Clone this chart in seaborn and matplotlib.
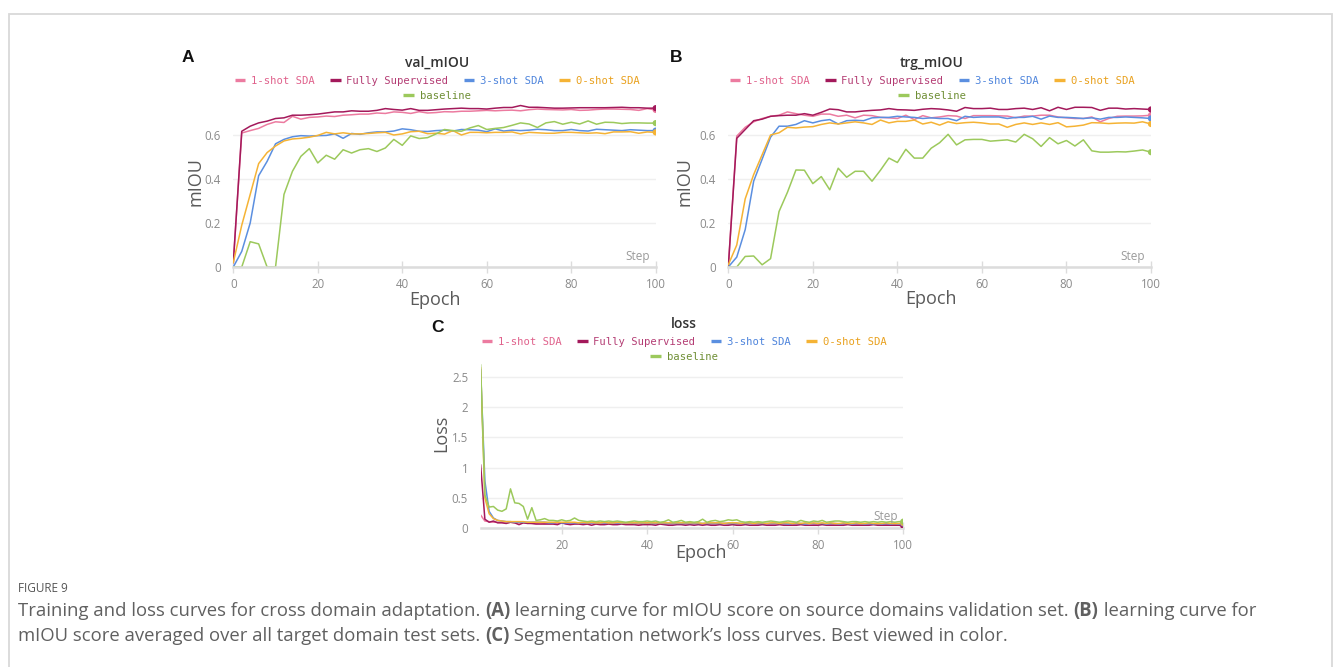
import numpy as np
import pandas as pd
import matplotlib
matplotlib.use("Agg")
import matplotlib.pyplot as plt
import seaborn as sns
from matplotlib.lines import Line2D
from matplotlib.patches import Rectangle
from matplotlib import font_manager

# ---------------- data ----------------
runs = ["1-shot SDA", "Fully Supervised", "3-shot SDA", "0-shot SDA", "baseline"]
line_colors = ["#ec7ba0", "#a3195b", "#5b8fe0", "#f5b335", "#9cc95c"]
text_colors = ["#e0628c", "#b43d74", "#4f85dc", "#e9a11e", "#6f8f35"]

epochs_miou = list(range(0, 101, 2))
epochs_loss = list(range(1, 101))

val_one = [0.02, 0.609, 0.620, 0.630, 0.648, 0.660, 0.657, 0.685, 0.672, 0.680,
           0.682, 0.686, 0.684, 0.690, 0.692, 0.695, 0.695, 0.700, 0.698, 0.705,
           0.703, 0.698, 0.706, 0.700, 0.702, 0.706, 0.705, 0.708, 0.708, 0.710,
           0.712, 0.710, 0.712, 0.713, 0.710, 0.715, 0.718, 0.716, 0.715, 0.714,
           0.716, 0.712, 0.713, 0.716, 0.718, 0.718, 0.717, 0.716, 0.712, 0.720, 0.714]
val_full = [0.02, 0.617, 0.640, 0.655, 0.663, 0.675, 0.678, 0.690, 0.690, 0.692,
            0.695, 0.700, 0.705, 0.705, 0.710, 0.708, 0.708, 0.712, 0.720, 0.716,
            0.713, 0.720, 0.712, 0.712, 0.715, 0.718, 0.720, 0.722, 0.720, 0.720,
            0.718, 0.722, 0.725, 0.725, 0.734, 0.726, 0.726, 0.724, 0.722, 0.722,
            0.723, 0.724, 0.724, 0.724, 0.724, 0.725, 0.726, 0.724, 0.724, 0.722, 0.722]
val_three = [0.0, 0.071, 0.200, 0.415, 0.480, 0.560, 0.580, 0.592, 0.597, 0.595,
             0.597, 0.598, 0.605, 0.585, 0.607, 0.603, 0.610, 0.614, 0.614, 0.618,
             0.628, 0.624, 0.617, 0.616, 0.620, 0.622, 0.618, 0.625, 0.624, 0.622,
             0.615, 0.628, 0.618, 0.622, 0.620, 0.622, 0.626, 0.624, 0.620, 0.620,
             0.625, 0.620, 0.618, 0.626, 0.624, 0.622, 0.620, 0.624, 0.622, 0.620, 0.620]
val_zero = [0.02, 0.190, 0.330, 0.470, 0.520, 0.550, 0.573, 0.582, 0.585, 0.590,
            0.598, 0.612, 0.605, 0.610, 0.605, 0.605, 0.607, 0.610, 0.612, 0.600,
            0.605, 0.615, 0.617, 0.606, 0.608, 0.604, 0.620, 0.600, 0.612, 0.612,
            0.610, 0.612, 0.612, 0.614, 0.605, 0.612, 0.610, 0.608, 0.608, 0.612,
            0.612, 0.610, 0.608, 0.610, 0.606, 0.614, 0.614, 0.615, 0.608, 0.614, 0.612]
val_base = [0.0, 0.0, 0.115, 0.105, 0.0, 0.0, 0.330, 0.435, 0.503, 0.538,
            0.473, 0.508, 0.490, 0.533, 0.518, 0.533, 0.538, 0.525, 0.541, 0.580,
            0.553, 0.596, 0.584, 0.588, 0.605, 0.625, 0.620, 0.617, 0.632, 0.643,
            0.625, 0.630, 0.634, 0.644, 0.655, 0.650, 0.634, 0.655, 0.661, 0.649,
            0.658, 0.650, 0.664, 0.649, 0.658, 0.657, 0.652, 0.655, 0.655, 0.654, 0.654]

trg_one = [0.0, 0.595, 0.635, 0.660, 0.675, 0.685, 0.690, 0.705, 0.697, 0.690,
           0.685, 0.695, 0.695, 0.685, 0.690, 0.678, 0.690, 0.688, 0.680, 0.678,
           0.675, 0.690, 0.670, 0.688, 0.678, 0.682, 0.688, 0.686, 0.675, 0.688,
           0.688, 0.688, 0.687, 0.686, 0.678, 0.686, 0.686, 0.690, 0.690, 0.682,
           0.678, 0.675, 0.675, 0.682, 0.660, 0.675, 0.685, 0.686, 0.686, 0.687, 0.690]
trg_full = [0.0, 0.585, 0.625, 0.665, 0.672, 0.685, 0.688, 0.690, 0.690, 0.697,
            0.690, 0.703, 0.718, 0.715, 0.705, 0.705, 0.709, 0.712, 0.714, 0.720,
            0.715, 0.714, 0.712, 0.717, 0.720, 0.718, 0.714, 0.708, 0.725, 0.720,
            0.720, 0.722, 0.716, 0.716, 0.720, 0.722, 0.716, 0.724, 0.710, 0.726,
            0.716, 0.726, 0.726, 0.725, 0.712, 0.722, 0.722, 0.718, 0.720, 0.718, 0.716]
trg_three = [0.0, 0.045, 0.170, 0.390, 0.490, 0.590, 0.640, 0.640, 0.648, 0.665,
             0.655, 0.665, 0.670, 0.650, 0.665, 0.667, 0.665, 0.678, 0.680, 0.680,
             0.685, 0.682, 0.680, 0.675, 0.678, 0.675, 0.675, 0.665, 0.685, 0.680,
             0.682, 0.682, 0.682, 0.675, 0.680, 0.680, 0.685, 0.672, 0.686, 0.680,
             0.680, 0.678, 0.675, 0.678, 0.672, 0.680, 0.680, 0.682, 0.680, 0.678, 0.675]
trg_zero = [0.01, 0.100, 0.310, 0.420, 0.510, 0.600, 0.610, 0.635, 0.632, 0.636,
            0.638, 0.648, 0.655, 0.650, 0.655, 0.660, 0.655, 0.648, 0.668, 0.655,
            0.662, 0.662, 0.668, 0.650, 0.658, 0.645, 0.660, 0.652, 0.656, 0.658,
            0.655, 0.650, 0.650, 0.635, 0.648, 0.655, 0.648, 0.655, 0.648, 0.656,
            0.637, 0.640, 0.645, 0.656, 0.655, 0.652, 0.654, 0.655, 0.654, 0.660, 0.650]
trg_base = [0.0, 0.0, 0.048, 0.050, 0.010, 0.038, 0.252, 0.340, 0.441, 0.440,
            0.379, 0.411, 0.351, 0.449, 0.408, 0.435, 0.435, 0.390, 0.440, 0.495,
            0.475, 0.535, 0.495, 0.495, 0.540, 0.565, 0.603, 0.555, 0.578, 0.580,
            0.580, 0.572, 0.575, 0.578, 0.568, 0.603, 0.583, 0.548, 0.588, 0.560,
            0.575, 0.550, 0.578, 0.528, 0.522, 0.522, 0.524, 0.523, 0.527, 0.532, 0.522]

loss_one = [0.22, 0.12, 0.11, 0.10, 0.10, 0.10, 0.09, 0.10, 0.09, 0.09,
            0.09, 0.09, 0.08, 0.08, 0.09, 0.08, 0.08, 0.08, 0.08, 0.09,
            0.08, 0.08, 0.08, 0.08, 0.08, 0.07, 0.08, 0.08, 0.07, 0.08,
            0.08, 0.07, 0.08, 0.08, 0.07, 0.07, 0.08, 0.07, 0.07, 0.08,
            0.07, 0.07, 0.08, 0.07, 0.07, 0.07, 0.08, 0.07, 0.07, 0.07,
            0.07, 0.08, 0.07, 0.07, 0.07, 0.07, 0.07, 0.08, 0.07, 0.07,
            0.07, 0.07, 0.07, 0.08, 0.07, 0.07, 0.07, 0.07, 0.07, 0.07,
            0.08, 0.07, 0.07, 0.07, 0.07, 0.07, 0.07, 0.08, 0.07, 0.07,
            0.07, 0.07, 0.07, 0.07, 0.07, 0.07, 0.07, 0.07, 0.07, 0.07,
            0.07, 0.07, 0.07, 0.07, 0.07, 0.06, 0.07, 0.07, 0.07, 0.06]
loss_full = [1.05, 0.15, 0.10, 0.12, 0.09, 0.09, 0.08, 0.10, 0.09, 0.06,
             0.09, 0.08, 0.08, 0.07, 0.07, 0.07, 0.07, 0.07, 0.06, 0.09,
             0.07, 0.06, 0.07, 0.07, 0.06, 0.07, 0.05, 0.07, 0.06, 0.06,
             0.07, 0.06, 0.06, 0.07, 0.06, 0.06, 0.06, 0.05, 0.06, 0.06,
             0.06, 0.05, 0.07, 0.06, 0.05, 0.05, 0.06, 0.06, 0.05, 0.06,
             0.05, 0.06, 0.05, 0.06, 0.05, 0.05, 0.06, 0.05, 0.05, 0.06,
             0.05, 0.05, 0.06, 0.05, 0.05, 0.05, 0.06, 0.05, 0.05, 0.05,
             0.06, 0.05, 0.05, 0.05, 0.05, 0.06, 0.05, 0.05, 0.05, 0.05,
             0.06, 0.05, 0.05, 0.05, 0.05, 0.05, 0.06, 0.05, 0.05, 0.05,
             0.05, 0.05, 0.06, 0.05, 0.05, 0.05, 0.05, 0.05, 0.05, 0.04]
loss_three = [2.62, 0.78, 0.28, 0.17, 0.13, 0.12, 0.11, 0.11, 0.10, 0.10,
              0.10, 0.10, 0.10, 0.10, 0.10, 0.10, 0.09, 0.09, 0.10, 0.09,
              0.09, 0.09, 0.09, 0.09, 0.09, 0.09, 0.09, 0.09, 0.09, 0.09,
              0.09, 0.09, 0.09, 0.08, 0.09, 0.09, 0.08, 0.09, 0.08, 0.09,
              0.08, 0.08, 0.09, 0.08, 0.08, 0.08, 0.08, 0.08, 0.08, 0.08,
              0.08, 0.08, 0.08, 0.08, 0.08, 0.08, 0.08, 0.08, 0.08, 0.08,
              0.08, 0.08, 0.08, 0.08, 0.08, 0.08, 0.08, 0.08, 0.08, 0.08,
              0.08, 0.08, 0.07, 0.08, 0.08, 0.08, 0.07, 0.08, 0.08, 0.08,
              0.08, 0.07, 0.08, 0.08, 0.07, 0.08, 0.08, 0.07, 0.08, 0.08,
              0.07, 0.08, 0.07, 0.08, 0.07, 0.08, 0.07, 0.08, 0.07, 0.08]
loss_zero = [2.65, 0.50, 0.24, 0.16, 0.13, 0.12, 0.11, 0.11, 0.11, 0.11,
             0.11, 0.10, 0.10, 0.10, 0.10, 0.10, 0.10, 0.10, 0.10, 0.10,
             0.10, 0.10, 0.10, 0.09, 0.10, 0.09, 0.10, 0.09, 0.09, 0.10,
             0.09, 0.09, 0.10, 0.09, 0.09, 0.09, 0.09, 0.09, 0.09, 0.09,
             0.09, 0.09, 0.09, 0.09, 0.09, 0.09, 0.09, 0.09, 0.09, 0.09,
             0.09, 0.09, 0.08, 0.09, 0.09, 0.09, 0.09, 0.08, 0.09, 0.09,
             0.09, 0.08, 0.09, 0.09, 0.08, 0.09, 0.09, 0.08, 0.09, 0.09,
             0.08, 0.09, 0.09, 0.08, 0.09, 0.08, 0.09, 0.08, 0.09, 0.08,
             0.09, 0.08, 0.09, 0.08, 0.08, 0.09, 0.08, 0.08, 0.09, 0.08,
             0.08, 0.09, 0.08, 0.08, 0.08, 0.09, 0.08, 0.08, 0.08, 0.09]
loss_base = [2.70, 0.55, 0.35, 0.36, 0.30, 0.28, 0.32, 0.65, 0.42, 0.41,
             0.36, 0.15, 0.34, 0.13, 0.14, 0.16, 0.13, 0.13, 0.12, 0.14,
             0.12, 0.13, 0.17, 0.13, 0.12, 0.11, 0.12, 0.11, 0.12, 0.11,
             0.12, 0.11, 0.12, 0.11, 0.10, 0.11, 0.12, 0.11, 0.11, 0.12,
             0.11, 0.12, 0.10, 0.11, 0.14, 0.10, 0.11, 0.13, 0.10, 0.11,
             0.10, 0.11, 0.15, 0.10, 0.12, 0.13, 0.11, 0.12, 0.14, 0.13,
             0.14, 0.11, 0.10, 0.11, 0.10, 0.11, 0.10, 0.11, 0.12, 0.11,
             0.10, 0.11, 0.12, 0.11, 0.10, 0.13, 0.11, 0.10, 0.12, 0.11,
             0.13, 0.10, 0.11, 0.12, 0.12, 0.11, 0.10, 0.11, 0.11, 0.10,
             0.11, 0.10, 0.11, 0.10, 0.11, 0.10, 0.11, 0.10, 0.11, 0.11]

miou_ticks = [0, 0.2, 0.4, 0.6]
miou_ticklabels = ["0", "0.2", "0.4", "0.6"]
loss_ticks = [0, 0.5, 1, 1.5, 2, 2.5]
loss_ticklabels = ["0", "0.5", "1", "1.5", "2", "2.5"]
miou_xticks = [0, 20, 40, 60, 80, 100]
loss_xticks = [20, 40, 60, 80, 100]

# ---------------- style ----------------
sns.set_theme(style="white")
plt.rcParams["font.family"] = ["Open Sans", "DejaVu Sans"]

W, H = 1335, 667
fig = plt.figure(figsize=(W / 100, H / 100), dpi=100)
fig.patch.set_facecolor("white")

TICK_C = "#8a8a8a"
LABEL_C = "#5a5a5a"
AX_C = "#dcdcdc"


def add_axes_px(left, right, bottom, top):
    return fig.add_axes([left / W, 1 - bottom / H, (right - left) / W, (bottom - top) / H])


def draw_panel(ax, x, series, ylim, xlim, yticks, yticklabels, xticks, ylabel,
               ylabel_xy, xlabel_xy, step_xy):
    df = pd.DataFrame({
        "Epoch": np.tile(x, len(runs)),
        "value": np.concatenate([np.asarray(s, dtype=float) for s in series]),
        "run": np.repeat(runs, len(x)),
    })
    sns.lineplot(data=df, x="Epoch", y="value", hue="run", hue_order=runs,
                 palette=line_colors, ax=ax, legend=False, linewidth=1.1,
                 estimator=None, sort=False)
    last = df.groupby("run", sort=False).tail(1)
    sns.scatterplot(data=last, x="Epoch", y="value", hue="run", hue_order=runs,
                    palette=line_colors, ax=ax, legend=False, s=20,
                    linewidth=0, zorder=5)
    ax.set_xlim(*xlim)
    ax.set_ylim(*ylim)
    ax.set_yticks(yticks)
    ax.set_yticklabels(yticklabels)
    ax.set_xticks(xticks)
    ax.set_xticklabels([str(t) for t in xticks])
    ax.yaxis.grid(True, color="#efefef", linewidth=1.0)
    ax.xaxis.grid(False)
    for s in ["left", "top", "right"]:
        ax.spines[s].set_visible(False)
    ax.spines["bottom"].set_color(AX_C)
    ax.spines["bottom"].set_linewidth(1.8)
    ax.tick_params(axis="x", direction="inout", length=8, width=1.0, color=AX_C,
                   labelsize=8.3, labelcolor=TICK_C, pad=4, bottom=True)
    ax.tick_params(axis="y", length=0, labelsize=8.3, labelcolor=TICK_C, pad=9)
    ax.set_xlabel("Epoch", fontsize=13, color=LABEL_C)
    ax.xaxis.label.set_verticalalignment("center")
    ax.xaxis.set_label_coords(*xlabel_xy)
    ax.set_ylabel(ylabel, fontsize=13, color=LABEL_C)
    ax.yaxis.label.set_verticalalignment("center")
    ax.yaxis.set_label_coords(*ylabel_xy)
    ax.text(step_xy[0], step_xy[1], "Step", transform=ax.transAxes, ha="right",
            va="bottom", fontsize=8.5, color="#9a9a9a", zorder=6)


def add_legend(cx, y1, y2):
    mono = dict(family="DejaVu Sans Mono", size=7.6)
    h1 = [Line2D([], [], color=c, lw=2.4, solid_capstyle="butt") for c in line_colors[:4]]
    leg1 = fig.legend(h1, runs[:4], loc="center", bbox_to_anchor=(cx / W, 1 - y1 / H),
                      ncol=4, frameon=False, prop=mono, handlelength=1.0,
                      handletextpad=0.55, columnspacing=1.45, borderpad=0,
                      borderaxespad=0)
    for t, c in zip(leg1.get_texts(), text_colors[:4]):
        t.set_color(c)
    h2 = [Line2D([], [], color=line_colors[4], lw=2.4, solid_capstyle="butt")]
    leg2 = fig.legend(h2, runs[4:], loc="center", bbox_to_anchor=(cx / W, 1 - y2 / H),
                      ncol=1, frameon=False, prop=mono, handlelength=1.0,
                      handletextpad=0.55, borderpad=0, borderaxespad=0)
    leg2.get_texts()[0].set_color(text_colors[4])


# Panel A
axA = add_axes_px(233.3, 655.7, 267, 102)
draw_panel(axA, epochs_miou, [val_one, val_full, val_three, val_zero, val_base],
           (0, 0.75), (0, 100), miou_ticks, miou_ticklabels, miou_xticks, "mIOU",
           ((196 - 233.3) / 422.4, 0.515), ((435 - 233.3) / 422.4, (267 - 300) / 165),
           (0.9865, 0.022))
fig.text(437 / W, 1 - 63 / H, "val_mIOU", ha="center", va="center", fontsize=10,
         color="#333333", fontweight="semibold")
add_legend(437, 81, 96)
fig.text(188 / W, 1 - 57 / H, "A", ha="center", va="center", fontsize=12.5,
         fontweight="bold", family="Liberation Sans", color="#111111")

# Panel B
axB = add_axes_px(728.3, 1151, 267, 102)
draw_panel(axB, epochs_miou, [trg_one, trg_full, trg_three, trg_zero, trg_base],
           (0, 0.75), (0, 100), miou_ticks, miou_ticklabels, miou_xticks, "mIOU",
           ((685 - 728.3) / 422.7, 0.515), ((931 - 728.3) / 422.7, (267 - 299) / 165),
           (0.9865, 0.022))
fig.text(932 / W, 1 - 63 / H, "trg_mIOU", ha="center", va="center", fontsize=10,
         color="#333333", fontweight="semibold")
add_legend(932, 81, 96)
fig.text(676 / W, 1 - 57 / H, "B", ha="center", va="center", fontsize=12.5,
         fontweight="bold", family="Liberation Sans", color="#111111")

# Panel C
axC = add_axes_px(480.6, 903.3, 528.3, 363.3)
draw_panel(axC, epochs_loss, [loss_one, loss_full, loss_three, loss_zero, loss_base],
           (0, 2.72), (1, 100), loss_ticks, loss_ticklabels, loss_xticks, "Loss",
           ((441 - 480.6) / 422.7, (528.3 - 433) / 165),
           ((701 - 480.6) / 422.7, (528.3 - 553) / 165), (0.988, 0.03))
fig.text(684 / W, 1 - 324 / H, "loss", ha="center", va="center", fontsize=10,
         color="#333333", fontweight="semibold")
add_legend(684, 342, 357)
fig.text(438 / W, 1 - 327 / H, "C", ha="center", va="center", fontsize=12.5,
         fontweight="bold", family="Liberation Sans", color="#111111")

# Border
fig.add_artist(Rectangle((9 / W, -0.05), (1332 - 9) / W, 1.05 - 14 / H,
                         transform=fig.transFigure, fill=False,
                         edgecolor="#d9d9d9", linewidth=1.3, clip_on=False))

# Caption
names = {f.name for f in font_manager.fontManager.ttflist}
cap_family = "Liberation Sans Narrow" if "Liberation Sans Narrow" in names else "Open Sans"
renderer = fig.canvas.get_renderer()


def text_width(s, size, bold):
    t = fig.text(0, 0, "|" + s + "|", fontsize=size, family=cap_family,
                 fontweight="bold" if bold else "normal")
    w = t.get_window_extent(renderer).width
    t.remove()
    t2 = fig.text(0, 0, "||", fontsize=size, family=cap_family,
                  fontweight="bold" if bold else "normal")
    w2 = t2.get_window_extent(renderer).width
    t2.remove()
    return w - w2


line1 = [("Training and loss curves for cross domain adaptation. ", False), ("(A)", True),
         (" learning curve for mIOU score on source domains validation set. ", False),
         ("(B)", True), (" learning curve for", False)]
line2 = [("mIOU score averaged over all target domain test sets. ", False), ("(C)", True),
         (" Segmentation network\u2019s loss curves. Best viewed in color.", False)]

base_size = 10.0
w_line1 = sum(text_width(s, base_size, b) for s, b in line1)
cap_size = base_size * (1257 - 18) / w_line1


def place_line(segs, x0, y, size):
    x = x0
    for s, b in segs:
        fig.text(x / W, 1 - y / H, s, fontsize=size, family=cap_family,
                 fontweight="bold" if b else "normal", color="#606060",
                 ha="left", va="center")
        x += text_width(s, size, b)


fig.text(18 / W, 1 - 588 / H, "FIGURE 9", fontsize=8.5, family=cap_family,
         color="#555555", ha="left", va="center")
place_line(line1, 18, 611, cap_size)
place_line(line2, 18, 636, cap_size)

fig.savefig("out.png", dpi=100, facecolor="white")
